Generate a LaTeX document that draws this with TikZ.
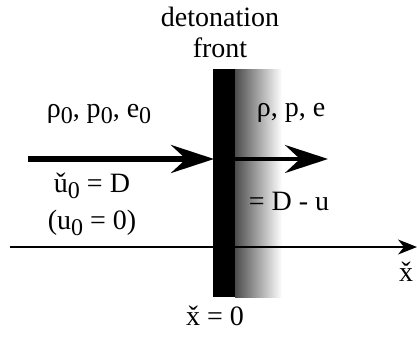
\documentclass[tikz,border=0pt]{standalone}
\usepackage{fontspec}
\setmainfont{Liberation Serif}
\usetikzlibrary{arrows.meta, positioning}
\newcommand{\lowidx}[1]{\raisebox{-6pt}{\fontsize{24}{24}\selectfont #1}}
\tikzset{
	labeltext/.style={font=\fontsize{28}{30}\selectfont\rmfamily, inner sep=0pt, anchor=base},
	flowarrow/.style={line width=#1, -{Stealth[length=43pt, width=28pt, inset=15pt]}}
}
\begin{document}
\begin{tikzpicture}[x=1pt, y=-1pt]
      \useasboundingbox (0,0) rectangle (417,338);
      % detonation front with its reaction zone
      \shade[left color=black!70, right color=white] (235,69) rectangle (282,297);
      \fill[black] (213,69) rectangle (235,297);
      \node[labeltext] (title) at (220,26) {detonation};
      \node[labeltext] (title2) at (220,57) {front};
      % states ahead of and behind the front
      \node[labeltext] (state0) at (99,117) {ρ\lowidx{0}, p\lowidx{0}, e\lowidx{0}};
      \node[labeltext] (state1) at (291,116) {ρ, p, e};
      \node[labeltext] (vel0) at (92,192) {\v{u}\lowidx{0} = D};
      \node[labeltext] (rest0) at (92,229) {(u\lowidx{0} = 0)};
      \node[labeltext] (vel1) at (289,210) {= D - u};
      % axis
      \coordinate (axstart) at (10,247);
      \coordinate (axend) at (417,247);
      \draw[line width=1.6pt, -{Stealth[length=19pt, width=15pt, inset=6pt]}] (axstart) -- (axend);
      \node[labeltext] (xlab) at (406,281) {\v{x}};
      \node[labeltext] (origin) at (215,325) {\v{x} = 0};
      % flow arrows
      \coordinate (inflow) at (28,159);
      \coordinate (front) at (214,159);
      \coordinate (outstart) at (235,159);
      \coordinate (outflow) at (328,159);
      \draw[flowarrow=5.5pt] (inflow) -- (front);
      \draw[flowarrow=4pt] (outstart) -- (outflow);
    \end{tikzpicture}
\end{document}
